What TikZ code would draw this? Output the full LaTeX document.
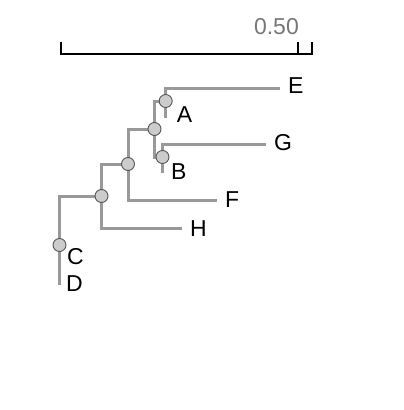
\documentclass[tikz,border=0pt]{standalone}
\usepackage{fontspec}
\setmainfont{Liberation Sans}
\usetikzlibrary{positioning,backgrounds}
\definecolor{brc}{HTML}{999999}
\definecolor{dotfill}{HTML}{CCCCCC}
\definecolor{dotline}{HTML}{555555}
\definecolor{sclbl}{HTML}{777777}
\tikzset{
  ndot/.style={circle,draw=dotline,fill=dotfill,line width=0.9pt,minimum size=13pt,inner sep=0pt},
  lbl/.style={inner sep=0pt,anchor=west,font=\fontsize{23}{23}\selectfont},
  branch/.style={draw=brc,line width=3pt},
  sbar/.style={draw=black,line width=2pt},
}
\begin{document}
\begin{tikzpicture}[x=1pt,y=-1pt]
\useasboundingbox (0,0) rectangle (404,410);
% scale bar
\coordinate (s0) at (60.7,54);
\coordinate (s5) at (298,54);
\coordinate (s1) at (312,54);
\draw[sbar] ([yshift=12pt]s0) -- (s0) -- (s1) -- ([yshift=12pt]s1);
\draw[sbar] (s5) -- ([yshift=12pt]s5);
\node[anchor=east,inner sep=0pt,text=sclbl,font=\fontsize{23}{23}\selectfont] (slbl) at (299,27) {0.50};
% internal nodes
\node[ndot] (nC) at (59.5,245) {};
\node[ndot] (n1) at (101.5,196) {};
\node[ndot] (n2) at (128,164) {};
\node[ndot] (n3) at (154.5,129) {};
\node[ndot] (nA) at (165.7,101) {};
\node[ndot] (nB) at (162.5,157) {};
% leaves
\coordinate (lE) at (280,88);
\coordinate (lA) at (165.7,118);
\coordinate (lG) at (266,144);
\coordinate (lB) at (162.5,173);
\coordinate (lF) at (217,200);
\coordinate (lH) at (182,228.5);
\coordinate (lD) at (59.5,285);
% branches
\begin{scope}[on background layer]
\draw[branch] (nC.center) |- (n1.center);
\draw[branch] (nC.center) -- (lD);
\draw[branch] (n1.center) |- (n2.center);
\draw[branch] (n1.center) |- (lH);
\draw[branch] (n2.center) |- (n3.center);
\draw[branch] (n2.center) |- (lF);
\draw[branch] (n3.center) |- (nA.center);
\draw[branch] (n3.center) |- (nB.center);
\draw[branch] (nA.center) |- (lE);
\draw[branch] (nA.center) -- (lA);
\draw[branch] (nB.center) |- (lG);
\draw[branch] (nB.center) -- (lB);
\end{scope}
% labels
\node[lbl,right=8pt of lE,yshift=2pt] (tE) {E};
\node[lbl,right=11pt of lA,yshift=3pt] (tA) {A};
\node[lbl,right=8pt of lG,yshift=1pt] (tG) {G};
\node[lbl,right=8.5pt of lB,yshift=1.5pt] (tB) {B};
\node[lbl,right=8pt of lF] (tF) {F};
\node[lbl,right=8pt of lH] (tH) {H};
\node[lbl,right=7.5pt of nC.center,yshift=-12pt] (tC) {C};
\node[lbl,right=6.5pt of lD,yshift=1pt] (tD) {D};
\end{tikzpicture}
\end{document}
